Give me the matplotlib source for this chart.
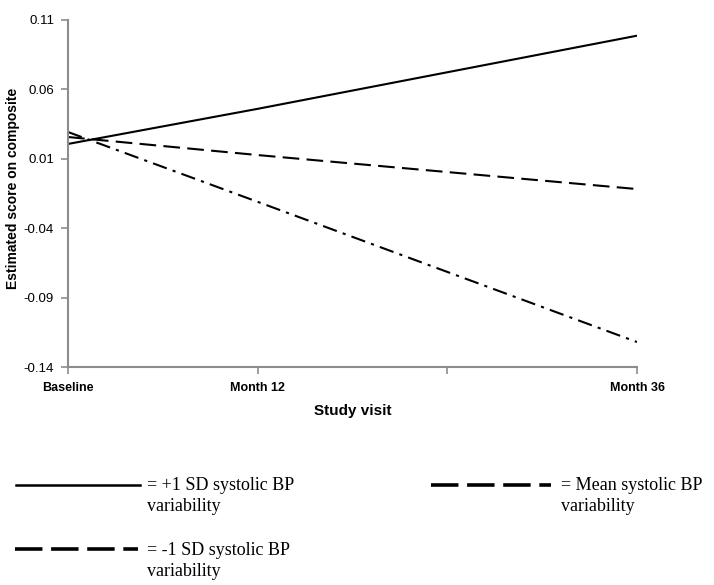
import matplotlib
matplotlib.use("Agg")
import matplotlib.pyplot as plt
from matplotlib.lines import Line2D

# Data
visits = [0, 12, 36]
tick_pos = [0, 12, 24, 36]
tick_labels = ["Baseline", "Month 12", "", "Month 36"]
plus1sd = [0.0207, 0.046, 0.0987]
mean_sd = [0.0257, 0.0127, -0.0118]
minus1sd = [0.0293, -0.021, -0.122]
yticks = [-0.14, -0.09, -0.04, 0.01, 0.06, 0.11]
legend_first = ["= +1 SD systolic BP", "= Mean systolic BP", "= -1 SD systolic BP"]
legend_second = ["variability", "variability", "variability"]

W, H = 714, 585
fig = plt.figure(figsize=(W / 100, H / 100), dpi=100)
ax = fig.add_axes([68 / W, 1 - 367 / H, (637 - 68) / W, (367 - 20) / H])

ax.plot(visits, plus1sd, color="black", lw=1.5, solid_capstyle="butt")
ax.plot(visits, mean_sd, color="black", lw=1.5, dashes=(8, 3.5))
ax.plot(visits, minus1sd, color="black", lw=1.5, dashes=(7, 3, 1.5, 3))

ax.set_xlim(0, 36)
ax.set_ylim(-0.14, 0.11)
ax.set_yticks(yticks)
ax.set_yticklabels([f"{v:.2f}" for v in yticks])
ax.set_xticks(tick_pos)
ax.set_xticklabels(tick_labels)

for s in ["top", "right"]:
    ax.spines[s].set_visible(False)
for s in ["left", "bottom"]:
    ax.spines[s].set_color("#8c8c8c")
    ax.spines[s].set_linewidth(1.5)
ax.tick_params(axis="both", colors="#8c8c8c", length=5, width=1.2, direction="out")
for lab in ax.get_xticklabels():
    lab.set_color("black")
    lab.set_fontsize(9)
    lab.set_fontweight("bold")
    lab.set_fontfamily("Liberation Sans")
for lab in ax.get_yticklabels():
    lab.set_color("black")
    lab.set_fontsize(9.5)
    lab.set_fontfamily("Liberation Sans")
ax.tick_params(axis="x", pad=6)
ax.tick_params(axis="y", pad=5)

ax.set_ylabel("Estimated score on composite", fontsize=10, fontweight="bold",
              family="Liberation Sans")
ax.yaxis.set_label_coords((20 - 68) / 569, (367 - 188) / 347)
ax.set_xlabel("Study visit", fontsize=11, fontweight="bold",
              family="Liberation Sans", labelpad=7)

# Legend drawn manually below axes
def fx(px):
    return px / W

def fy(py):
    return 1 - py / H

fig.add_artist(Line2D([fx(16), fx(140)], [fy(485), fy(485)], color="black", lw=1.8,
                      transform=fig.transFigure))
fig.add_artist(Line2D([fx(431), fx(551)], [fy(485), fy(485)], color="black", lw=2.6,
                      dashes=(7.6, 2.4), transform=fig.transFigure))
fig.add_artist(Line2D([fx(15), fx(138)], [fy(549), fy(549)], color="black", lw=2.6,
                      dashes=(7.6, 2.4), transform=fig.transFigure))

kw = dict(fontsize=13, family="Liberation Serif", va="baseline", ha="left")
positions = [(147, 490), (561, 490), (147, 555)]
for (px, py), l1, l2 in zip(positions, legend_first, legend_second):
    fig.text(fx(px), fy(py), l1, **kw)
    fig.text(fx(px), fy(py + 21), l2, **kw)

fig.savefig("out.png", dpi=100)
